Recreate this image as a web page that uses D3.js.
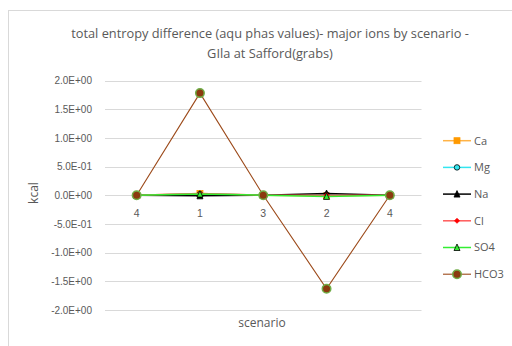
<!DOCTYPE html>
<html><head><meta charset="utf-8">
<script src="https://cdn.jsdelivr.net/npm/d3@7"></script>
<style>html,body{margin:0;padding:0;background:#fff;}svg{display:block;font-family:"Open Sans","Noto Sans",sans-serif;}</style>
</head><body>
<script>
const categories = ["4", "1", "3", "2", "4"];
const Ca   = [0, 0.03, 0, -0.01, 0];
const Mg   = [0, 0.02, 0, 0.01, 0];
const Na   = [0, -0.01, 0, 0.03, 0];
const Cl   = [0, 0.03, 0, 0.0, 0];
const SO4  = [0, 0.02, 0, -0.02, 0];
const HCO3 = [0, 1.78, 0, -1.63, 0];
const seriesNames = ["Ca", "Mg", "Na", "Cl", "SO4", "HCO3"];
const yTicks = [2.0, 1.5, 1.0, 0.5, 0.0, -0.5, -1.0, -1.5, -2.0];
const yTickLabels = ["2.0E+00","1.5E+00","1.0E+00","5.0E-01","0.0E+00","-5.0E-01","-1.0E+00","-1.5E+00","-2.0E+00"];

const seriesData = [Ca, Mg, Na, Cl, SO4, HCO3];
const styles = [
  {line:"#FFB347", w:1.5, shape:"square", fill:"#FF9900", stroke:"#FF9900", size:6},
  {line:"#33E6F0", w:1.5, shape:"circle", fill:"#33E6F0", stroke:"#000", size:5.5},
  {line:"#000000", w:1.5, shape:"triangle", fill:"#000", stroke:"#000", size:6},
  {line:"#FF5A5A", w:1.5, shape:"diamond", fill:"#FF0000", stroke:"#FF0000", size:5},
  {line:"#33EE33", w:1.5, shape:"triangle", fill:"#33EE33", stroke:"#000", size:6},
  {line:"#9C4A1A", w:1.1, shape:"circle", fill:"#8B3A0F", stroke:"#70AD47", size:8.5}
];

const W = 512, H = 346;
const svg = d3.select("body").append("svg").attr("width", W).attr("height", H);
svg.append("rect").attr("x", 8.5).attr("y", 10.5).attr("width", 530).attr("height", 350)
  .attr("fill", "#fff").attr("stroke", "#d9d9d9");

const x = d3.scaleBand().domain(d3.range(categories.length)).range([105, 421.5]);
const y = d3.scaleLinear().domain([-2, 2]).range([310, 80.5]);

// gridlines
svg.append("g").selectAll("line").data(yTicks).join("line")
  .attr("x1", 105).attr("x2", 421.5)
  .attr("y1", d => Math.round(y(d)) + 0.5).attr("y2", d => Math.round(y(d)) + 0.5)
  .attr("stroke", "#d9d9d9").attr("stroke-width", 1);

// y axis labels
const yAxis = d3.axisLeft(y).tickValues(yTicks).tickFormat((d, i) => yTickLabels[i]).tickSize(0).tickPadding(0);
const gy = svg.append("g").attr("transform", "translate(92,0)").call(yAxis);
gy.select(".domain").remove();
gy.selectAll("text").attr("fill", "#595959").attr("font-size", "10px");

// x axis labels below zero line
const xAxis = d3.axisBottom(x).tickFormat(i => categories[i]).tickSize(0).tickPadding(0);
const gx = svg.append("g").attr("transform", `translate(0,${y(0) + 21.5})`).call(xAxis);
gx.select(".domain").remove();
gx.selectAll("text").attr("fill", "#595959").attr("font-size", "10.5px").attr("dy", "0");

const cx = i => x(i) + x.bandwidth() / 2;
const line = d3.line().x((d, i) => cx(i)).y(d => y(d));

function marker(g, shape, size) {
  const s = size;
  if (shape === "square") return g.append("rect").attr("x", -s/2).attr("y", -s/2).attr("width", s).attr("height", s);
  if (shape === "circle") return g.append("circle").attr("r", s/2);
  if (shape === "triangle") return g.append("path").attr("d", `M0,${-s/2-0.5}L${s/2},${s/2}L${-s/2},${s/2}Z`);
  if (shape === "diamond") return g.append("path").attr("d", `M0,${-s/2}L${s/2},0L0,${s/2}L${-s/2},0Z`);
}

seriesData.forEach((data, k) => {
  const st = styles[k];
  svg.append("path").datum(data).attr("d", line).attr("fill", "none")
    .attr("stroke", st.line).attr("stroke-width", st.w);
  data.forEach((v, i) => {
    const g = svg.append("g").attr("transform", `translate(${cx(i)},${y(v)})`);
    marker(g, st.shape, st.size).attr("fill", st.fill).attr("stroke", st.stroke).attr("stroke-width", k === 5 ? 1.5 : 0.8);
  });
});

// title
const title = svg.append("text").attr("x", 270).attr("text-anchor", "middle").attr("fill", "#595959").attr("font-size", "12.8px");
title.append("tspan").attr("x", 270).attr("y", 38).text("total entropy difference (aqu phas values)- major ions by scenario -");
title.append("tspan").attr("x", 270).attr("y", 58).text("GIla at Safford(grabs)");

// axis titles
svg.append("text").attr("transform", "translate(38,193) rotate(-90)").attr("text-anchor", "middle")
  .attr("fill", "#595959").attr("font-size", "12px").text("kcal");
svg.append("text").attr("x", 262).attr("y", 327).attr("text-anchor", "middle")
  .attr("fill", "#595959").attr("font-size", "12px").text("scenario");

// legend
const legY0 = 140.7, legDy = 26.7;
seriesNames.forEach((name, k) => {
  const st = styles[k];
  const ly = legY0 + k * legDy;
  svg.append("line").attr("x1", 443).attr("x2", 471).attr("y1", ly).attr("y2", ly)
    .attr("stroke", st.line).attr("stroke-width", st.w);
  const g = svg.append("g").attr("transform", `translate(457,${ly})`);
  marker(g, st.shape, st.size).attr("fill", st.fill).attr("stroke", st.stroke).attr("stroke-width", k === 5 ? 1.5 : 0.8);
  svg.append("text").attr("x", 474).attr("y", ly).attr("dy", "0.35em").attr("fill", "#595959")
    .attr("font-size", "11px").text(name);
});
</script>
</body></html>
